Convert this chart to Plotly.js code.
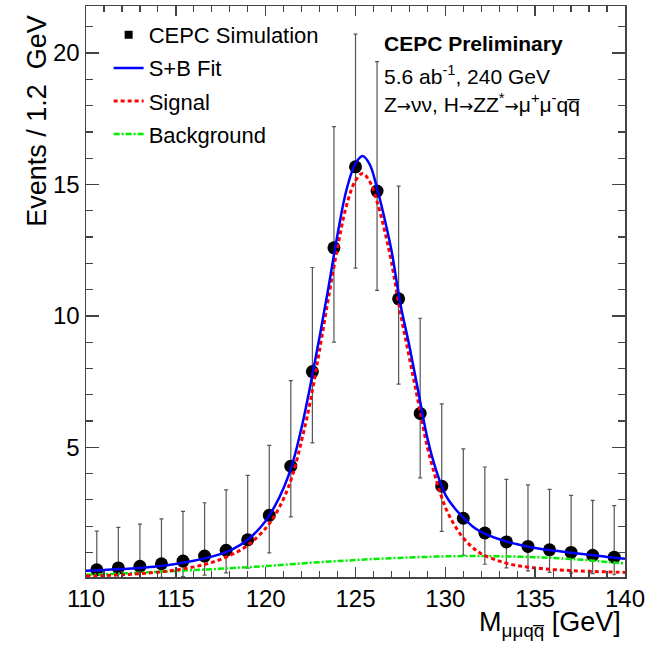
<!DOCTYPE html>
<html><head><meta charset="utf-8">
<script src="https://cdn.plot.ly/plotly-3.0.1.min.js"></script>
<style>body{margin:0;background:#fff}#chart{width:664px;height:648px}</style>
</head><body><div id="chart"></div>
<script>
// Data points (bin centres, 1.2 GeV bins)
const binCenters = [110.6,111.8,113.0,114.2,115.4,116.6,117.8,119.0,120.2,121.4,122.6,123.8,125.0,126.2,127.4,128.6,129.8,131.0,132.2,133.4,134.6,135.8,137.0,138.2,139.4];
const events     = [0.34,0.41,0.47,0.57,0.67,0.86,1.08,1.48,2.41,4.28,7.88,12.59,15.67,14.75,10.65,6.29,3.52,2.30,1.74,1.40,1.23,1.10,1.00,0.89,0.82];
const errTop     = [1.81,1.95,2.08,2.28,2.56,2.89,3.38,3.93,5.07,7.54,11.84,17.20,20.72,19.67,14.94,9.91,6.65,4.94,4.25,3.78,3.57,3.40,3.17,2.98,2.78];
const errBottom  = [0.00,0.00,0.02,0.05,0.08,0.14,0.22,0.40,0.98,2.35,5.17,9.00,11.82,10.97,7.40,3.84,1.80,0.89,0.55,0.41,0.30,0.24,0.21,0.19,0.15];

// Fit curves
const curveX   = [110,111,112,113,114,115,116,117,118,119,120,120.5,121,121.5,122,122.5,123,123.5,124,124.5,125,125.4,125.8,126.2,126.6,127,127.5,128,128.5,129,129.5,130,130.5,131,131.5,132,133,134,135,136,137,138,139,140];
const sbFit    = [0.30,0.33,0.37,0.41,0.47,0.56,0.68,0.84,1.07,1.48,2.20,2.75,3.45,4.40,5.75,7.40,9.20,11.10,13.10,14.80,15.80,16.08,15.75,14.85,13.75,12.50,10.45,8.85,7.10,5.35,4.10,3.20,2.70,2.32,2.00,1.78,1.50,1.31,1.17,1.07,0.99,0.91,0.83,0.76];
const signal   = [0.10,0.12,0.15,0.19,0.25,0.33,0.45,0.62,0.88,1.27,1.92,2.40,3.05,3.95,5.25,6.80,8.70,10.70,12.60,14.20,15.15,15.42,15.10,14.35,13.30,12.05,10.10,8.40,6.70,5.00,3.75,2.72,2.05,1.55,1.20,0.95,0.67,0.50,0.41,0.35,0.31,0.28,0.26,0.24];
const bkgX     = [110,111,112,113,114,115,116,117,118,119,120,121,122,123,124,125,126,127,128,129,130,131,132,133,134,135,136,137,138,139,140];
const background = [0.15,0.17,0.20,0.23,0.26,0.29,0.33,0.36,0.40,0.44,0.48,0.53,0.58,0.63,0.67,0.71,0.75,0.78,0.81,0.83,0.85,0.86,0.86,0.85,0.84,0.82,0.79,0.75,0.70,0.64,0.58];

const xTickVals = [110,115,120,125,130,135,140];
const yTickVals = [5,10,15,20];

const FONT = 'Liberation Sans, Arial, Helvetica, sans-serif';
const AX = '#444';
const ARROW = '<span style="font-family:\'DejaVu Sans\';font-size:17px">→</span>';

const traces = [
  {x: binCenters, y: events, type:'scatter', mode:'markers', showlegend:false,
   marker:{color:'#000', size:13, symbol:'circle'},
   error_y:{type:'data', symmetric:false,
     array: errTop.map((t,i)=>t-events[i]),
     arrayminus: errBottom.map((b,i)=>events[i]-b),
     color:'#555', thickness:1.2, width:2}},
  {x: bkgX, y: background, type:'scatter', mode:'lines', name:'Background', legendrank:4, legendgroup:'d',
   line:{color:'#00ee00', width:2.5, dash:'6px,2px,2px,2px', shape:'spline'}},
  {x: curveX, y: signal, type:'scatter', mode:'lines', name:'Signal', legendrank:3, legendgroup:'c',
   line:{color:'#ff0000', width:3, dash:'4px,3px', shape:'spline'}},
  {x: curveX, y: sbFit, type:'scatter', mode:'lines', name:'S+B Fit', legendrank:2, legendgroup:'b',
   line:{color:'#0000ff', width:2.5, shape:'spline'}},
  {x:[null], y:[null], type:'scatter', mode:'markers', name:'CEPC Simulation', legendrank:1, legendgroup:'a',
   marker:{color:'#000', size:8, symbol:'square'}}
];

const layout = {
  width:664, height:648,
  margin:{l:86, r:39, t:6, b:71},
  paper_bgcolor:'#fff', plot_bgcolor:'#fff',
  font:{family:FONT, color:'#000'},
  showlegend:true,
  legend:{x:0.042, y:0.986, xanchor:'left', yanchor:'top', bgcolor:'rgba(0,0,0,0)', traceorder:'grouped',
          font:{size:22, family:FONT, color:'#000'}, itemwidth:30, tracegroupgap:1.5},
  xaxis:{range:[110,140], tickvals:xTickVals, ticks:'inside', ticklen:10, tickwidth:1.5, tickcolor:AX,
         showline:true, linecolor:AX, linewidth:1.5, mirror:'ticks', showgrid:false, zeroline:false,
         minor:{ticks:'inside', dtick:1, tick0:110, ticklen:6, tickwidth:1.2, tickcolor:AX, showgrid:false},
         tickfont:{size:24, family:FONT, color:'#000'}},
  yaxis:{range:[0.065,21.79], tickvals:yTickVals, ticks:'inside', ticklen:13, tickwidth:1.5, tickcolor:AX,
         showline:true, linecolor:AX, linewidth:1.5, mirror:'ticks', showgrid:false, zeroline:false,
         minor:{ticks:'inside', dtick:1, tick0:0, ticklen:7, tickwidth:1.2, tickcolor:AX, showgrid:false},
         tickfont:{size:24, family:FONT, color:'#000'}},
  annotations:[
    {text:'Events / 1.2  GeV', textangle:-90, xref:'paper', yref:'paper', x:-0.091, y:0.988,
     xanchor:'center', yanchor:'top', showarrow:false, font:{size:27, family:FONT, color:'#000'}},
    {text:'M<sub>μμqq\u0305</sub> [GeV]', xref:'paper', yref:'paper', x:0.996, y:-0.082,
     xanchor:'right', yanchor:'middle', showarrow:false, font:{size:27, family:FONT, color:'#000'}},
    {text:'<b>CEPC Preliminary</b>', xref:'paper', yref:'paper', x:0.549, y:0.9335,
     xanchor:'left', yanchor:'middle', showarrow:false, font:{size:21, family:FONT, color:'#000'}},
    {text:'5.6 ab<sup>-1</sup>, 240 GeV', xref:'paper', yref:'paper', x:0.549, y:0.879,
     xanchor:'left', yanchor:'middle', showarrow:false, font:{size:21, family:FONT, color:'#000'}},
    {text:'Z'+ARROW+'νν, H'+ARROW+'ZZ<sup>*</sup>'+ARROW+'μ<sup>+</sup>μ<sup>-</sup>qq\u0305', xref:'paper', yref:'paper', x:0.549, y:0.830,
     xanchor:'left', yanchor:'middle', showarrow:false, font:{size:21, family:FONT, color:'#000'}}
  ]
};

Plotly.newPlot('chart', traces, layout, {displayModeBar:false, staticPlot:true});
</script>
</body></html>
